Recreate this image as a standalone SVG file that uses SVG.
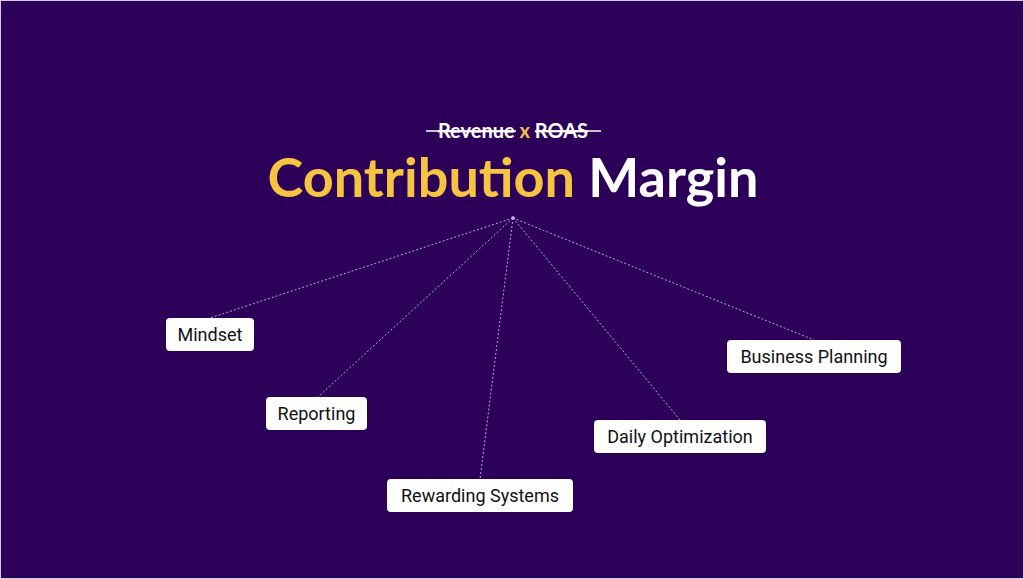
<svg xmlns="http://www.w3.org/2000/svg" width="1024" height="579" viewBox="0 0 1024 579">
<style>
.box{fill:#fff;rx:4px}
.lbl{font-family:Roboto,"Liberation Sans",sans-serif;font-size:18px;fill:#111;text-anchor:middle}
.c{stroke:#b9a6d6;stroke-width:1;stroke-dasharray:2 2;fill:none}
.t{font-family:Lato,"Liberation Sans",sans-serif;font-weight:bold}
</style>
<rect x="0" y="0" width="1024" height="579" fill="#2c0058"/>
<rect x="0.5" y="0.5" width="1023" height="578" fill="none" stroke="#cfcfd8" stroke-width="1"/>
<g id="title">
<text class="t" x="513" y="138" font-size="20" text-anchor="middle"><tspan fill="#fff" text-decoration="line-through">Revenue</tspan><tspan fill="#f5c542"> x </tspan><tspan fill="#fff" text-decoration="line-through">ROAS</tspan></text>
<line x1="426" y1="131" x2="516" y2="131" stroke="#fff" stroke-width="1.5"/>
<line x1="540" y1="131" x2="601" y2="131" stroke="#fff" stroke-width="1.5"/>
<text class="t" x="513" y="197" font-size="54" text-anchor="middle"><tspan fill="#f5c542">Contribution</tspan><tspan fill="#fff"> Margin</tspan></text>
</g>
<g id="connectors">
<circle cx="513" cy="218" r="1.8" fill="#d8cce8"/>
<line class="c" x1="513" y1="218" x2="210" y2="318"/>
<line class="c" x1="513" y1="218" x2="318" y2="397"/>
<line class="c" x1="513" y1="218" x2="480" y2="479"/>
<line class="c" x1="513" y1="218" x2="680" y2="420"/>
<line class="c" x1="513" y1="218" x2="814" y2="340"/>
</g>
<g id="mindset"><rect class="box" x="166" y="318" width="88" height="33" rx="4"/><text class="lbl" x="210" y="341">Mindset</text></g>
<g id="reporting"><rect class="box" x="266" y="397" width="101" height="33" rx="4"/><text class="lbl" x="316.5" y="420">Reporting</text></g>
<g id="rewarding"><rect class="box" x="387" y="479" width="186" height="33" rx="4"/><text class="lbl" x="480" y="502">Rewarding Systems</text></g>
<g id="daily"><rect class="box" x="594" y="420" width="172" height="33" rx="4"/><text class="lbl" x="680" y="443">Daily Optimization</text></g>
<g id="business"><rect class="box" x="727" y="340" width="174" height="33" rx="4"/><text class="lbl" x="814" y="363">Business Planning</text></g>
</svg>
